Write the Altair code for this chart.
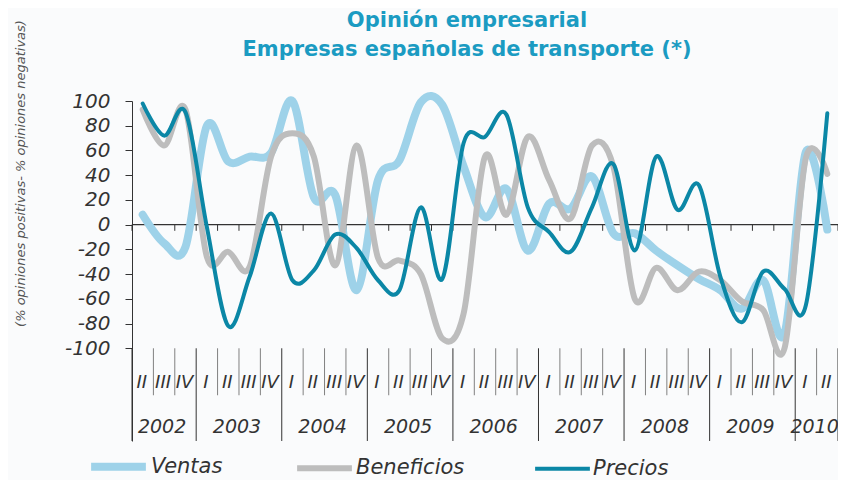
import altair as alt
import pandas as pd

# ---- data ----
quarters = ["II", "III", "IV"] + ["I", "II", "III", "IV"] * 7 + ["I", "II"]
years = ["2002", "2003", "2004", "2005", "2006", "2007", "2008", "2009", "2010"]
year_start = [0, 3, 7, 11, 15, 19, 23, 27, 31]
year_end = [3, 7, 11, 15, 19, 23, 27, 31, 33]

ventas = [8, -15, -18, 80, 51, 55, 58, 100, 22, 24, -53, 36, 52, 99, 97, 47,
          6, 29, -21, 17, 13, 39, -7, -7, -21, -33, -44, -53, -68, -45, -88, 59, -4]
beneficios = [93, 64, 93, -26, -22, -34, 55, 74, 55, -33, 64, -27, -29, -40, -92, -72,
              55, 8, 71, 36, 5, 64, 47, -60, -35, -53, -38, -45, -62, -69, -100, 54, 41]
precios = [98, 72, 91, -2, -82, -42, 9, -45, -37, -8, -19, -45, -53, 14, -44, 66,
           71, 89, 14, -6, -22, 14, 49, -21, 55, 12, 32, -42, -79, -38, -52, -65, 90]

series = ["Ventas", "Beneficios", "Precios"]
colors = ["#9ed2e9", "#bdbdbd", "#0b87a6"]
widths = [8, 4, 4.5]

n = len(quarters)
FONT = "DejaVu Sans"
TXT = "#333333"

rows = []
for name, vals in zip(series, [ventas, beneficios, precios]):
    for i, v in enumerate(vals):
        rows.append({"serie": name, "pos": i + 0.5, "valor": v})
lines_df = pd.DataFrame(rows)

xs = alt.Scale(domain=[0, n], nice=False, zero=False)
ys = alt.Scale(domain=[-175, 100], nice=False, zero=False)

yaxis = alt.Axis(
    values=list(range(-100, 101, 20)), grid=False, labelOverlap=False,
    labelExpr="'' + datum.value",
    domainColor=TXT, domainWidth=1, tickColor=TXT, tickSize=7, tickWidth=1,
    labelFont=FONT, labelFontStyle="italic", labelFontSize=20, labelColor=TXT,
    labelPadding=15,
    title="(% opiniones positivas- % opiniones negativas)",
    titleFont=FONT, titleFontStyle="italic", titleFontWeight="normal",
    titleFontSize=13, titleColor="#555555", titleX=-112, titleY=72,
    titleBaseline="middle", titleAngle=270,
)

legend = alt.Legend(
    title=None, orient="none", legendX=-45, legendY=334, direction="horizontal",
    symbolType="stroke", symbolSize=3000, labelFont=FONT, labelFontStyle="italic",
    labelFontSize=21, labelColor=TXT, columnPadding=62, labelOffset=1,
)

lines = alt.Chart(lines_df).mark_line(
    interpolate="cardinal", strokeCap="round", strokeJoin="round"
).encode(
    x=alt.X("pos:Q", scale=xs, axis=None),
    y=alt.Y("valor:Q", scale=ys, axis=yaxis),
    color=alt.Color("serie:N", scale=alt.Scale(domain=series, range=colors),
                    legend=legend, sort=series),
    strokeWidth=alt.StrokeWidth("serie:N", scale=alt.Scale(domain=series, range=widths),
                                legend=legend, sort=series),
)

# zero line with small ticks
zero_df = pd.DataFrame({"x0": [0], "x1": [n], "y": [0]})
zero = alt.Chart(zero_df).mark_rule(color=TXT, strokeWidth=1.2).encode(
    x=alt.X("x0:Q", scale=xs, axis=None), x2="x1:Q",
    y=alt.Y("y:Q", scale=ys, axis=yaxis))

tick_df = pd.DataFrame({"b": list(range(0, n + 1)), "y0": 0, "y1": -5})
zticks = alt.Chart(tick_df).mark_rule(color=TXT, strokeWidth=1).encode(
    x=alt.X("b:Q", scale=xs, axis=None),
    y=alt.Y("y0:Q", scale=ys, axis=yaxis), y2="y1:Q")

# category axis
year_bounds = sorted(set(year_start + year_end))
q_bounds = [b for b in range(1, n) if b not in year_bounds]
qsep_df = pd.DataFrame({"b": q_bounds, "y0": -100, "y1": -138})
ysep_df = pd.DataFrame({"b": year_bounds, "y0": -100, "y1": -175})
qsep = alt.Chart(qsep_df).mark_rule(color="#808080", strokeWidth=1).encode(
    x=alt.X("b:Q", scale=xs, axis=None),
    y=alt.Y("y0:Q", scale=ys, axis=yaxis), y2="y1:Q")
ysep = alt.Chart(ysep_df).mark_rule(color=TXT, strokeWidth=1).encode(
    x=alt.X("b:Q", scale=xs, axis=None),
    y=alt.Y("y0:Q", scale=ys, axis=yaxis), y2="y1:Q")

qlab_df = pd.DataFrame({"pos": [i + 0.5 for i in range(n)], "q": quarters, "y": -128})
qlab = alt.Chart(qlab_df).mark_text(
    font=FONT, fontStyle="italic", fontSize=18, color=TXT, align="center",
    baseline="middle", dx=-1).encode(
    x=alt.X("pos:Q", scale=xs, axis=None),
    y=alt.Y("y:Q", scale=ys, axis=yaxis), text="q:N")

ylab_df = pd.DataFrame({"pos": [(a + b) / 2 for a, b in zip(year_start, year_end)],
                        "anio": years, "y": -164})
ylab = alt.Chart(ylab_df).mark_text(
    font=FONT, fontStyle="italic", fontSize=19, color=TXT, align="center",
    baseline="middle", dx=-2).encode(
    x=alt.X("pos:Q", scale=xs, axis=None),
    y=alt.Y("y:Q", scale=ys, axis=yaxis), text="anio:N")

chart = alt.layer(zero, zticks, qsep, ysep, qlab, ylab, lines).properties(
    width=706, height=340,
    autosize=alt.AutoSizeParams(type="none"),
    padding={"left": 124, "top": 93, "right": 0, "bottom": 40},
    background="#fafbfc",
    title=alt.TitleParams(
        text=["Opinión empresarial", "Empresas españolas de transporte (*)"],
        font=FONT, fontSize=21, fontWeight="bold", color="#1b9bc2",
        anchor="middle", dx=-18, dy=40, offset=0, lineHeight=29,
    ),
).configure_view(stroke=None).configure_axisY(labelOverlap=False)

chart.save("out.html", embed_options={"renderer": "svg", "actions": False})
